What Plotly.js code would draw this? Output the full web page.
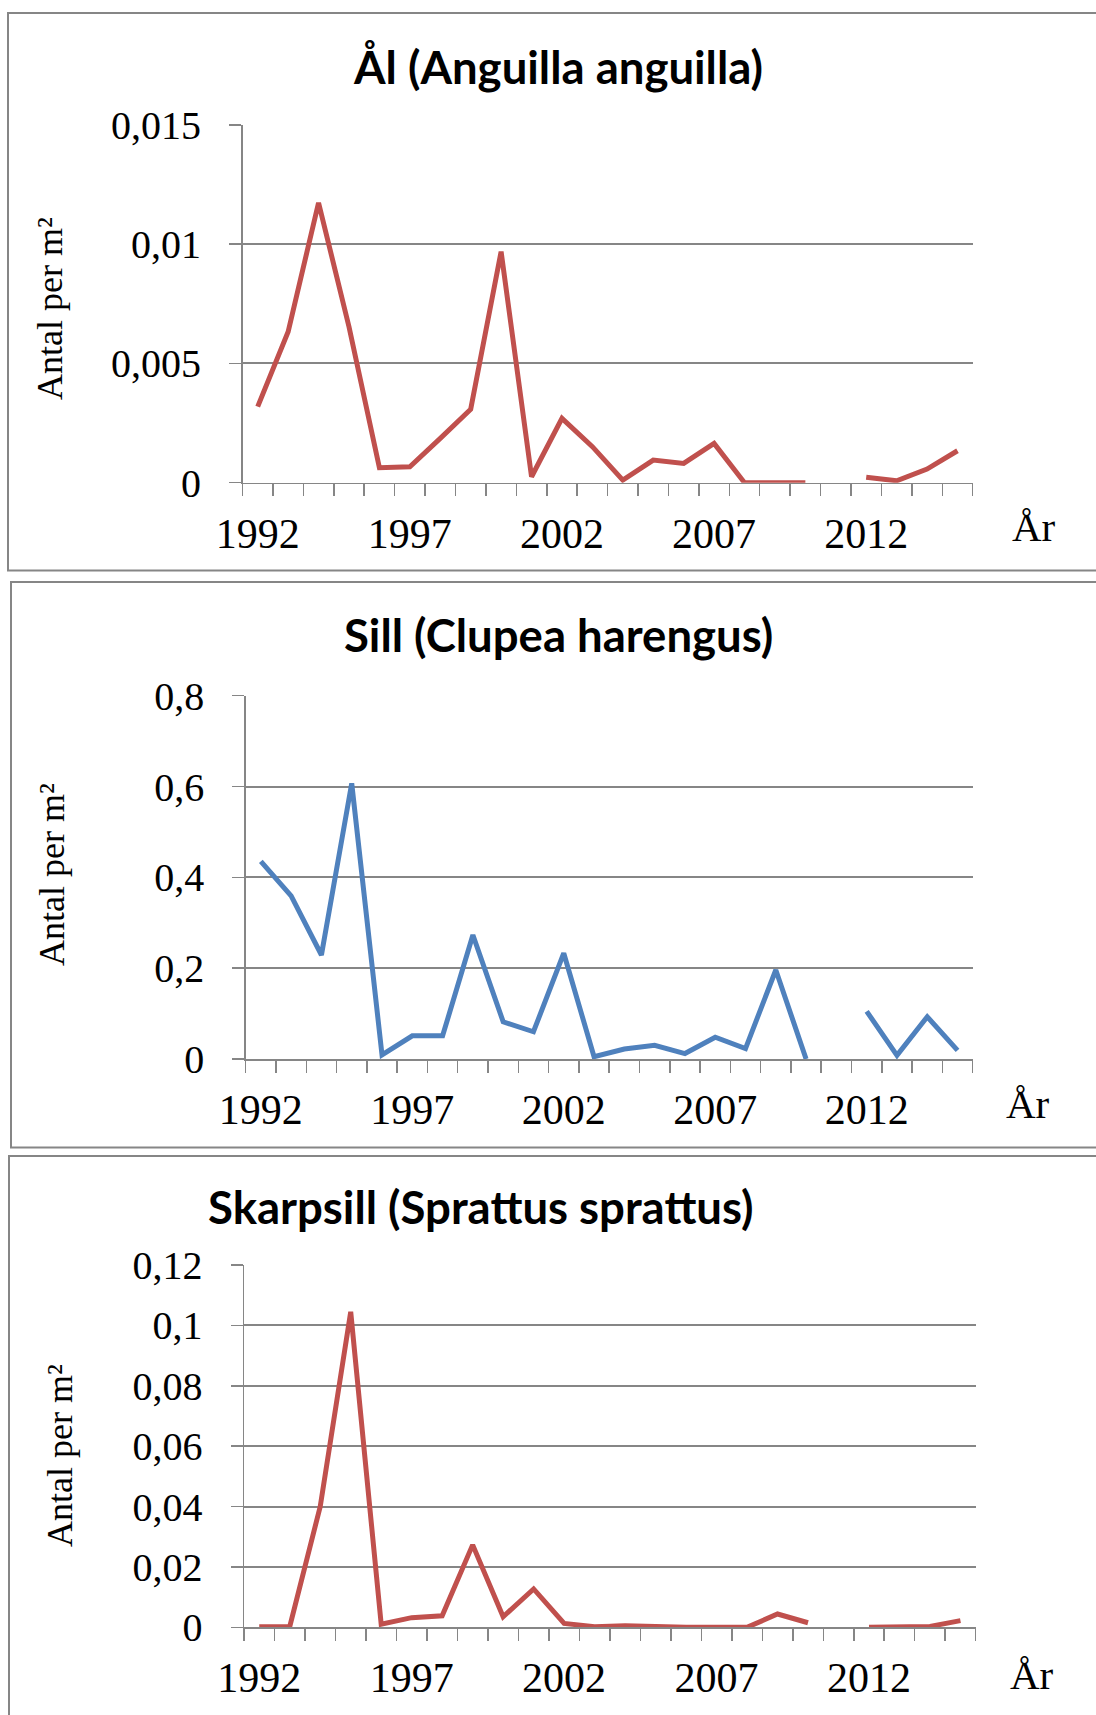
<!DOCTYPE html>
<html>
<head>
<meta charset="utf-8">
<script src="https://cdn.plot.ly/plotly-3.0.1.min.js"></script>
<style>
  html, body { margin: 0; padding: 0; background: #fff; }
  #chart { width: 1096px; height: 1715px; }
</style>
</head>
<body>
<div id="chart"></div>
<script>
// ---- Data ----
const years = [1992, 1993, 1994, 1995, 1996, 1997, 1998, 1999, 2000, 2001, 2002, 2003,
               2004, 2005, 2006, 2007, 2008, 2009, 2010, 2011, 2012, 2013, 2014, 2015];

const alValues = [0.00319, 0.00633, 0.01174, 0.00654, 0.00063, 0.00067, 0.00186, 0.00308,
                  0.00969, 0.00025, 0.00270, 0.00151, 0.00011, 0.00095, 0.00081, 0.00165,
                  0, 0, 0, null, 0.00023, 0.00008, 0.00057, 0.00134];

const sillValues = [0.435, 0.359, 0.229, 0.607, 0.009, 0.051, 0.051, 0.273,
                    0.082, 0.060, 0.233, 0.005, 0.022, 0.030, 0.012, 0.048,
                    0.023, 0.196, 0, null, 0.105, 0.008, 0.093, 0.019];

const skarpsillValues = [0.0002, 0.0002, 0.0400, 0.1045, 0.0010, 0.0032, 0.0038, 0.0273,
                         0.0035, 0.0127, 0.0013, 0.0002, 0.0005, 0.0001, 0, 0,
                         0, 0.0044, 0.0015, null, 0, 0, 0.0003, 0.0022];

const xTickVals = [1992, 1997, 2002, 2007, 2012];
const xTickText = ['1992', '1997', '2002', '2007', '2012'];

const alTickVals = [0, 0.005, 0.01, 0.015];
const alTickText = ['0', '0,005', '0,01', '0,015'];
const sillTickVals = [0, 0.2, 0.4, 0.6, 0.8];
const sillTickText = ['0', '0,2', '0,4', '0,6', '0,8'];
const skTickVals = [0, 0.02, 0.04, 0.06, 0.08, 0.1, 0.12];
const skTickText = ['0', '0,02', '0,04', '0,06', '0,08', '0,1', '0,12'];

const titles = ['Ål (Anguilla anguilla)', 'Sill (Clupea harengus)', 'Skarpsill (Sprattus sprattus)'];
const yTitle = 'Antal per m²';
const xTitle = 'År';

// ---- Layout helpers ----
const W = 1096, H = 1715;
const px = v => v / W;
const py = v => 1 - v / H;

const RED = '#C0504D';
const BLUE = '#4F81BD';
const GRID = '#868686';
const SERIF = 'Liberation Serif, Times New Roman, serif';
const SANS = 'Lato, Open Sans, sans-serif';

function xAxis(anchor, x0, x1) {
  return {
    anchor: anchor,
    domain: [px(x0), px(x1)],
    range: [1991.5, 2015.5],
    tickvals: xTickVals,
    ticktext: xTickText,
    ticks: '',
    ticklabelstandoff: 13,
    showline: true, linecolor: GRID, linewidth: 1.5,
    showgrid: false, zeroline: false,
    minor: { tick0: 1991.5, dtick: 1, ticks: 'outside', ticklen: 12, tickcolor: GRID, tickwidth: 1.5, showgrid: false },
    tickfont: { family: SERIF, size: 42, color: '#000' },
    fixedrange: true
  };
}
function yAxis(anchor, top, bottom, rng, tv, tt) {
  return {
    anchor: anchor,
    domain: [py(bottom), py(top)],
    range: rng,
    tickvals: tv,
    ticktext: tt,
    ticks: 'outside', ticklen: 12, tickcolor: GRID, tickwidth: 1.5,
    ticklabelstandoff: 20,
    showline: true, linecolor: GRID, linewidth: 1.5,
    showgrid: true, gridcolor: GRID, gridwidth: 2,
    zeroline: false,
    tickfont: { family: SERIF, size: 40, color: '#000' },
    fixedrange: true
  };
}

const traces = [
  { x: years, y: alValues, xaxis: 'x', yaxis: 'y', type: 'scatter', mode: 'lines',
    connectgaps: false, line: { color: RED, width: 5 }, hoverinfo: 'x+y' },
  { x: years, y: sillValues, xaxis: 'x2', yaxis: 'y2', type: 'scatter', mode: 'lines',
    connectgaps: false, line: { color: BLUE, width: 5 }, hoverinfo: 'x+y' },
  { x: years, y: skarpsillValues, xaxis: 'x3', yaxis: 'y3', type: 'scatter', mode: 'lines',
    connectgaps: false, line: { color: RED, width: 5 }, hoverinfo: 'x+y' }
];

function ann(text, x, y, font, extra) {
  return Object.assign({ text: text, x: px(x), y: py(y), xref: 'paper', yref: 'paper',
    xanchor: 'center', yanchor: 'middle', showarrow: false, font: font }, extra || {});
}
const titleFont = { family: SANS, size: 45.5, color: '#000', weight: 'bold' };
const yTitleFont = { family: SERIF, size: 36, color: '#000' };
const xTitleFont = { family: SERIF, size: 41, color: '#000' };

const annotations = [
  ann(titles[0], 558, 66, titleFont),
  ann(titles[1], 558, 634, titleFont),
  ann(titles[2], 481, 1206, titleFont),
  ann(yTitle, 50, 309, yTitleFont, { textangle: -90 }),
  ann(yTitle, 52, 875, yTitleFont, { textangle: -90 }),
  ann(yTitle, 60, 1456, yTitleFont, { textangle: -90 }),
  ann(xTitle, 1034, 527, xTitleFont),
  ann(xTitle, 1028, 1104, xTitleFont),
  ann(xTitle, 1032, 1675, xTitleFont)
];

function box(x0, y0, x1, y1) {
  return { type: 'rect', xref: 'paper', yref: 'paper', x0: px(x0), x1: px(x1), y0: py(y1), y1: py(y0),
    line: { color: GRID, width: 2 }, fillcolor: 'rgba(0,0,0,0)', layer: 'below' };
}

const layout = {
  width: W, height: H,
  margin: { l: 0, r: 0, t: 0, b: 0 },
  paper_bgcolor: '#fff', plot_bgcolor: 'rgba(0,0,0,0)',
  showlegend: false,
  xaxis: xAxis('y', 242.5, 972.7),
  yaxis: yAxis('x', 125, 482.7, [0, 0.015], alTickVals, alTickText),
  xaxis2: xAxis('y2', 245.7, 972.7),
  yaxis2: yAxis('x2', 695.7, 1059, [0, 0.8], sillTickVals, sillTickText),
  xaxis3: xAxis('y3', 244, 975.7),
  yaxis3: yAxis('x3', 1265, 1627.3, [0, 0.12], skTickVals, skTickText),
  annotations: annotations,
  shapes: [
    box(8, 13, 1110, 570.5),
    box(11, 582, 1110, 1147.5),
    box(9, 1156, 1110, 1730)
  ]
};

Plotly.newPlot('chart', traces, layout, { displayModeBar: false, staticPlot: true });
</script>
</body>
</html>
